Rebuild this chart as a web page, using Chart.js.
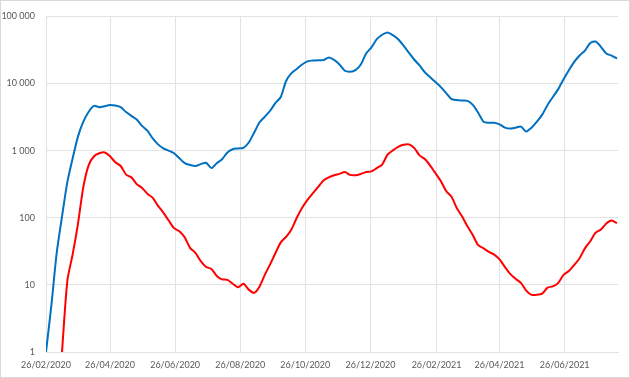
<!DOCTYPE html>
<html>
<head>
<meta charset="utf-8">
<script src="https://cdn.jsdelivr.net/npm/chart.js@4/dist/chart.umd.min.js"></script>
<style>
  body { margin: 0; background: #fff; }
  #wrap { width: 630px; height: 378px; }
</style>
</head>
<body>
<div id="wrap"><canvas id="chart" width="630" height="378"></canvas></div>
<script>
// days counted from 26/02/2020, one reading every 5 days
const days = [];
for (let d = 0; d <= 535; d += 5) days.push(d);

const blueValues = [
  1, 4.9, 29.7, 104, 340, 770, 1630, 2700, 3800, 4650,
  4440, 4600, 4800, 4700, 4440, 3760, 3300, 2900, 2340, 1980,
  1520, 1240, 1080, 1000, 915, 770, 650, 610, 590, 630,
  660, 550, 650, 745, 940, 1050, 1080, 1100, 1320, 1850,
  2630, 3200, 3930, 5130, 6300, 10900, 14300, 16500, 19200, 21400,
  22000, 22300, 22300, 24500, 22500, 19200, 15500, 15000, 15800, 19200,
  28000, 34600, 45700, 53300, 57800, 52600, 45700, 36700, 28900, 22800,
  18600, 14700, 12400, 10500, 8850, 7200, 5860, 5670, 5580, 5500,
  4800, 3660, 2700, 2600, 2600, 2460, 2200, 2130, 2200, 2280,
  1930, 2200, 2700, 3440, 4800, 6300, 8250, 11600, 15800, 21000,
  26100, 31000, 40100, 42300, 35200, 28000, 26100, 23500
];

const redValues = [
  null, null, null, 1, 11.5, 28.6, 82, 288, 610, 825,
  915, 940, 825, 670, 590, 440, 400, 317, 278, 228,
  198, 150, 119, 91, 70, 63, 51, 35.6, 30, 22.6,
  18.5, 17.3, 13.6, 12.1, 11.9, 10.4, 9.2, 10.4, 8.5, 7.6,
  9.4, 14.1, 20.2, 29.8, 43, 52, 67, 100, 141, 185,
  230, 288, 360, 400, 430, 450, 480, 435, 430, 450,
  480, 490, 550, 620, 870, 1010, 1140, 1220, 1240, 1100,
  850, 750, 600, 460, 350, 250, 205, 139, 104, 74,
  55, 39, 35, 31, 28.3, 24, 18.5, 14.6, 12.3, 10.7,
  8.2, 7.1, 7.1, 7.4, 9.1, 9.5, 10.7, 14.1, 16.1, 19.8,
  25, 35, 44.6, 60, 67, 82, 91, 83
];

const yTicks = [1, 10, 100, 1000, 10000, 100000];
const xTickDays = [0, 60, 121, 182, 243, 304, 366, 425, 486];
const xTickLabels = ["26/02/2020", "26/04/2020", "26/06/2020", "26/08/2020",
  "26/10/2020", "26/12/2020", "26/02/2021", "26/04/2021", "26/06/2021"];

const gridColor = "#e2e2e2";
const textColor = "#595959";

function toPoints(values) {
  return days.map((d, i) => ({ x: d, y: values[i] }));
}

function spaced(v) {
  return String(v).replace(/\B(?=(\d{3})+(?!\d))/g, " ");
}

// light frame around the whole chart
const frame = {
  id: "frame",
  beforeDraw(chart) {
    const ctx = chart.ctx;
    ctx.save();
    ctx.fillStyle = "#fff";
    ctx.fillRect(0, 0, chart.width, chart.height);
    ctx.strokeStyle = "#d9d9d9";
    ctx.lineWidth = 1;
    ctx.strokeRect(0.5, 0.5, chart.width - 1, chart.height - 1);
    ctx.restore();
  }
};

new Chart(document.getElementById("chart"), {
  type: "line",
  data: {
    datasets: [
      {
        data: toPoints(blueValues),
        borderColor: "#0070c0",
        borderWidth: 2,
        pointRadius: 0,
        tension: 0.25
      },
      {
        data: toPoints(redValues),
        borderColor: "#ff0000",
        borderWidth: 2,
        pointRadius: 0,
        tension: 0.25
      }
    ]
  },
  options: {
    responsive: false,
    animation: false,
    layout: { padding: { left: 0, right: 12, top: 13, bottom: 0 } },
    plugins: {
      legend: { display: false },
      tooltip: { enabled: false }
    },
    scales: {
      x: {
        type: "linear",
        min: 0,
        max: 536,
        afterBuildTicks: (scale) => {
          scale.ticks = xTickDays.map((v) => ({ value: v }));
        },
        afterFit: (scale) => { scale.height = 26; },
        grid: { color: gridColor, drawTicks: false },
        border: { color: gridColor },
        ticks: {
          padding: 8,
          maxRotation: 0,
          autoSkip: false,
          color: textColor,
          font: { family: "Lato", size: 9 },
          callback: (v) => xTickLabels[xTickDays.indexOf(v)]
        }
      },
      y: {
        type: "logarithmic",
        min: 1,
        max: 100000,
        afterBuildTicks: (scale) => {
          scale.ticks = yTicks.map((v) => ({ value: v }));
        },
        afterFit: (scale) => { scale.width = 46; },
        grid: { color: gridColor, drawTicks: false },
        border: { color: gridColor },
        ticks: {
          padding: 11,
          color: textColor,
          font: { family: "Lato", size: 9 },
          callback: (v) => spaced(v)
        }
      }
    }
  },
  plugins: [frame]
});
</script>
</body>
</html>
